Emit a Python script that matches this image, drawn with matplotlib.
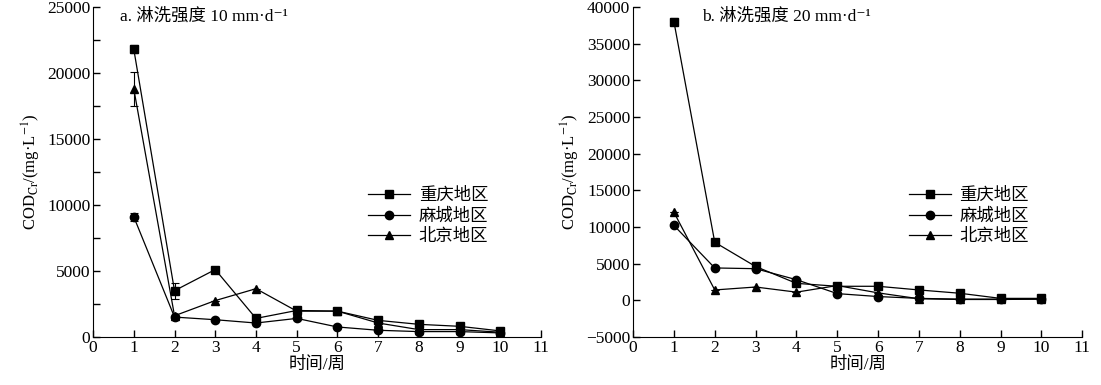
import numpy as np
from matplotlib import pyplot as plt
from matplotlib.ticker import MultipleLocator

plt.rcParams['font.family'] = ['Liberation Serif', 'Noto Sans CJK SC', 'DejaVu Serif']
plt.rcParams['mathtext.fontset'] = 'stix'
plt.rcParams['font.size'] = 12.5

weeks = [1, 2, 3, 4, 5, 6, 7, 8, 9, 10]
regions = ['重庆地区', '麻城地区', '北京地区']
markers = ['s', 'o', '^']

# panel a: 10 mm/d
a_cq = [21800, 3500, 5100, 1400, 2000, 1950, 1250, 950, 800, 450]
a_mc = [9100, 1500, 1300, 1050, 1400, 750, 500, 400, 400, 300]
a_bj = [18800, 1600, 2750, 3650, 1950, 1950, 1050, 550, 550, 350]
a_cq_err = [300, 600, 0, 0, 0, 0, 0, 0, 0, 0]
a_mc_err = [300, 0, 0, 0, 0, 0, 0, 0, 0, 0]
a_bj_err = [1300, 0, 0, 0, 0, 0, 0, 0, 0, 0]

# panel b: 20 mm/d
b_cq = [38000, 7900, 4600, 2300, 1900, 1900, 1400, 950, 250, 250]
b_mc = [10200, 4400, 4300, 2800, 900, 500, 250, 150, 150, 150]
b_bj = [12000, 1400, 1800, 1100, 2000, 1000, 200, 100, 100, 150]
b_cq_err = [500, 0, 0, 0, 0, 0, 0, 0, 0, 0]
b_mc_err = [0] * 10
b_bj_err = [0] * 10

fig = plt.figure(figsize=(11.01, 3.85), dpi=100)
ax1 = fig.add_axes([0.0845, 0.125, 0.407, 0.857])
ax2 = fig.add_axes([0.575, 0.125, 0.408, 0.857])

panels = [
    (ax1, [a_cq, a_mc, a_bj], [a_cq_err, a_mc_err, a_bj_err],
     'a. 淋洗强度 10 mm·d⁻¹', (0, 25000), 0.06),
    (ax2, [b_cq, b_mc, b_bj], [b_cq_err, b_mc_err, b_bj_err],
     'b. 淋洗强度 20 mm·d⁻¹', (-5000, 40000), 0.154),
]

for ax, series, errs, title, ylim, tx in panels:
    for vals, err, m, name in zip(series, errs, markers, regions):
        ax.errorbar(weeks, vals, yerr=err, color='black', marker=m,
                    markersize=6, linewidth=0.9, elinewidth=0.8,
                    capsize=3, capthick=0.8, label=name)
    ax.set_xlim(0, 11)
    ax.set_ylim(*ylim)
    ax.xaxis.set_major_locator(MultipleLocator(1))
    ax.yaxis.set_major_locator(MultipleLocator(5000))
    ax.spines['top'].set_visible(False)
    ax.spines['right'].set_visible(False)
    ax.tick_params(direction='in', length=5, width=1, pad=2)
    ax.tick_params(which='minor', direction='in', length=5, width=1)
    ax.set_xlabel('时间/周', labelpad=1)
    ax.set_ylabel(r'COD$_{\mathrm{Cr}}$/(mg·L$^{-1}$)', fontsize=12, labelpad=3)
    ax.text(tx, 0.995, title, transform=ax.transAxes, va='top', ha='left')
    handles, labels = ax.get_legend_handles_labels()
    handles = [h[0] for h in handles]
    ax.legend(handles, labels, frameon=False, loc='center left',
              bbox_to_anchor=(0.595, 0.364), handlelength=2.4,
              labelspacing=0.25, handletextpad=0.5, borderpad=0)

ax1.yaxis.set_minor_locator(MultipleLocator(2500))

fig.savefig('out.png', dpi=100)
